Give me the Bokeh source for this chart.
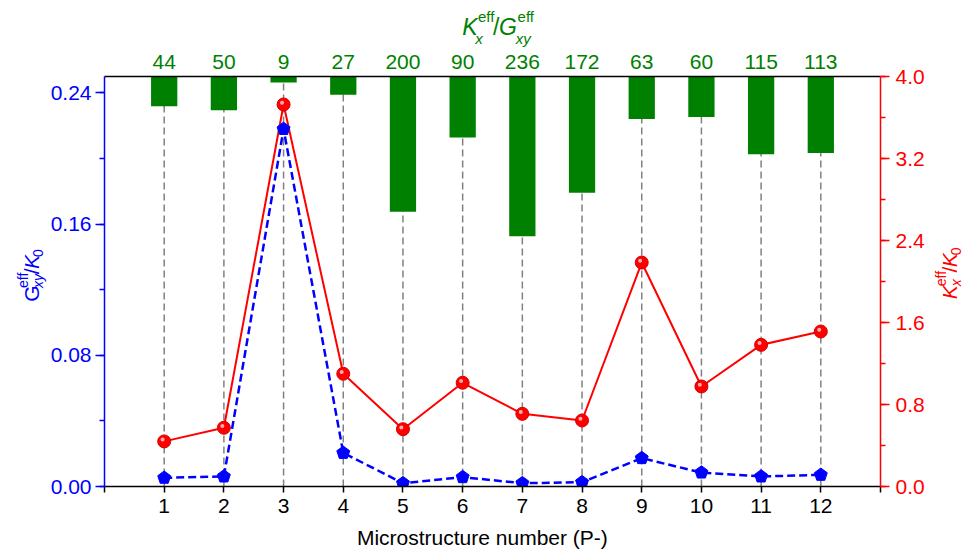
import numpy as np
from bokeh.plotting import figure
from bokeh.models import (Range1d, LinearAxis, FixedTicker, SingleIntervalTicker,
                          NumeralTickFormatter, Label, Grid)
from bokeh.layouts import gridplot
from bokeh.embed import file_html
from bokeh.resources import INLINE

# ---------------- data ----------------
micro = [1, 2, 3, 4, 5, 6, 7, 8, 9, 10, 11, 12]
ratio = [44, 50, 9, 27, 200, 90, 236, 172, 63, 60, 115, 113]
g_eff = [0.0053, 0.0061, 0.218, 0.0205, 0.0020, 0.0057, 0.0020, 0.0026,
         0.0173, 0.0085, 0.0061, 0.0071]
k_eff = [0.44, 0.573, 3.727, 1.10, 0.559, 1.012, 0.709, 0.644,
         2.185, 0.976, 1.382, 1.512]

# ---------------- layout (page pixels) ----------------
W, H = 970, 553
LW, RW, TH, BH = 47, 40, 48, 30          # side text strips
ML, MR, MT, MB = 55, 50, 28, 37          # main plot borders
FW, FH = 778, 410                         # frame size
MAIN_W = ML + FW + MR
MAIN_H = MT + FH + MB
X0, X1 = 0, 13
Y0, Y1 = 0.0, 0.25
K0, K1 = 0.0, 4.0
BAR_MAX = 606

FONT = "Liberation Sans"
BLUE, RED, GREEN = "#0000ff", "#ff0000", "#008000"


def hide_grids(fig):
    for r in fig.center:
        if isinstance(r, Grid):
            r.visible = False


p = figure(width=MAIN_W, height=MAIN_H, x_range=Range1d(X0, X1), y_range=Range1d(Y0, Y1),
           output_backend="svg", toolbar_location=None,
           x_axis_location=None, y_axis_location=None,
           min_border_left=ML, min_border_right=MR, min_border_top=MT, min_border_bottom=MB)
p.outline_line_color = None
hide_grids(p)
p.extra_y_ranges = {"k": Range1d(K0, K1), "bar": Range1d(BAR_MAX, 0)}

# ---------------- axes ----------------
left = LinearAxis(ticker=SingleIntervalTicker(interval=0.08, num_minor_ticks=2),
                  formatter=NumeralTickFormatter(format="0.00"))
right = LinearAxis(y_range_name="k", ticker=SingleIntervalTicker(interval=0.8, num_minor_ticks=2),
                   formatter=NumeralTickFormatter(format="0.0"))
for ax, col in ((left, BLUE), (right, RED)):
    ax.axis_line_color = col
    ax.axis_line_width = 1.5
    ax.major_tick_line_color = col
    ax.minor_tick_line_color = col
    ax.major_tick_line_width = 1.5
    ax.minor_tick_line_width = 1.5
    ax.major_tick_in = 0
    ax.major_tick_out = 9
    ax.minor_tick_in = 0
    ax.minor_tick_out = 5
    ax.major_label_text_color = col
    ax.major_label_text_font = FONT
    ax.major_label_text_font_size = "21px"
left.major_label_standoff = 4
right.major_label_standoff = 6
p.add_layout(left, "left")
p.add_layout(right, "right")

bottom = LinearAxis(ticker=FixedTicker(ticks=micro, minor_ticks=[X0, X1]))
bottom.axis_line_color = "black"
bottom.axis_line_width = 1.5
bottom.major_tick_line_color = "black"
bottom.minor_tick_line_color = "black"
bottom.major_tick_line_width = 1.5
bottom.minor_tick_line_width = 1.5
bottom.major_tick_in = 0
bottom.major_tick_out = 6
bottom.minor_tick_in = 0
bottom.minor_tick_out = 6
bottom.major_label_text_color = "black"
bottom.major_label_text_font = FONT
bottom.major_label_text_font_size = "21px"
bottom.major_label_standoff = 6
p.add_layout(bottom, "below")

top = LinearAxis(ticker=FixedTicker(ticks=micro),
                 major_label_overrides={m: str(r) for m, r in zip(micro, ratio)})
top.axis_line_color = "black"
top.axis_line_width = 1.5
top.major_tick_line_color = None
top.minor_tick_line_color = None
top.major_label_text_color = GREEN
top.major_label_text_font = FONT
top.major_label_text_font_size = "21px"
top.major_label_standoff = 2
p.add_layout(top, "above")

# ---------------- glyphs ----------------
p.segment(x0=micro, y0=Y0, x1=micro, y1=Y1, line_color="#808080",
          line_width=1.5, line_dash="7 4")
p.vbar(x=micro, width=0.44, top=0, bottom=ratio, y_range_name="bar",
       fill_color=GREEN, line_color=None)

p.line(micro, g_eff, line_color=BLUE, line_width=2.5, line_dash="8 4")
p.line(micro, k_eff, line_color=RED, line_width=2, y_range_name="k")

# pentagon markers (pixel-sized, converted to data units)
sx = (X1 - X0) / FW
sy = (Y1 - Y0) / FH
rad = 6.8
ang = np.pi / 2 + np.arange(5) * 2 * np.pi / 5
xs = [list(m + rad * np.cos(ang) * sx) for m in micro]
ys = [list(g + rad * np.sin(ang) * sy) for g in g_eff]
p.patches(xs, ys, fill_color=BLUE, line_color=BLUE, line_width=1)

# sphere markers
p.scatter(micro, k_eff, y_range_name="k", marker="circle", size=13,
          fill_color=RED, line_color="#d40000", line_width=1)
syk = (K1 - K0) / FH
hx = [m - 1.6 * sx for m in micro]
hy = [k + 1.8 * syk for k in k_eff]
p.scatter(hx, hy, y_range_name="k", marker="circle", size=4,
          fill_color="#ffb8b8", line_color=None, fill_alpha=0.95)


# ---------------- text strips (page-pixel coordinates) ----------------
def strip(w, h, x_start, y_start):
    f = figure(width=w, height=h,
               x_range=Range1d(x_start, x_start + w), y_range=Range1d(y_start + h, y_start),
               output_backend="svg", toolbar_location=None,
               x_axis_location=None, y_axis_location=None, min_border=0)
    f.outline_line_color = None
    hide_grids(f)
    return f


top_f = strip(MAIN_W, TH, LW, 0)
left_f = strip(LW, MAIN_H, 0, TH)
right_f = strip(RW, MAIN_H, LW + MAIN_W, TH)
bot_f = strip(MAIN_W, BH, LW, TH + MAIN_H)

SHIFT = 0.3  # empirical baseline correction (fraction of font size)


def lab(f, text, px, py, size, color, italic=False, rotated=False, align="left"):
    if rotated:
        px = px - SHIFT * size
    else:
        py = py - SHIFT * size
    f.add_layout(Label(x=px, y=py, text=text, angle=np.pi / 2 if rotated else 0.0,
                       text_font=FONT, text_font_size=f"{size}px",
                       text_font_style="italic" if italic else "normal",
                       text_color=color, text_align=align,
                       text_baseline="alphabetic"))


# top: K_x^eff / G_xy^eff  (baseline positions)
lab(top_f, "K", 454, 33, 23, GREEN, italic=True)
lab(top_f, "eff", 472, 20, 15, GREEN)
lab(top_f, "x", 469, 42, 15, GREEN, italic=True)
lab(top_f, "/", 489, 33, 23, GREEN)
lab(top_f, "G", 496, 33, 23, GREEN, italic=True)
lab(top_f, "eff", 517, 20, 15, GREEN)
lab(top_f, "xy", 515, 42, 15, GREEN, italic=True)

# left: G_xy^eff / K_0  (rotated)
lab(left_f, "G", 37, 309, 21, BLUE, rotated=True)
lab(left_f, "eff", 27, 293, 14, BLUE, rotated=True)
lab(left_f, "xy", 42, 293, 14, BLUE, italic=True, rotated=True)
lab(left_f, "/", 37, 277, 21, BLUE, rotated=True)
lab(left_f, "K", 37, 271, 21, BLUE, italic=True, rotated=True)
lab(left_f, "0", 42, 257, 14, BLUE, rotated=True)

# right: K_x^eff / K_0  (rotated)
lab(right_f, "K", 955, 306, 21, RED, italic=True, rotated=True)
lab(right_f, "eff", 945, 291, 14, RED, rotated=True)
lab(right_f, "x", 960, 291, 14, RED, italic=True, rotated=True)
lab(right_f, "/", 955, 275, 21, RED, rotated=True)
lab(right_f, "K", 955, 269, 21, RED, italic=True, rotated=True)
lab(right_f, "0", 960, 255, 14, RED, rotated=True)

# bottom title
lab(bot_f, "Microstructure number (P-)", 477, 543, 21, "black", align="center")

layout = gridplot([[None, top_f, None],
                   [left_f, p, right_f],
                   [None, bot_f, None]], toolbar_location=None)

open("out.html", "w").write(file_html(layout, INLINE))
